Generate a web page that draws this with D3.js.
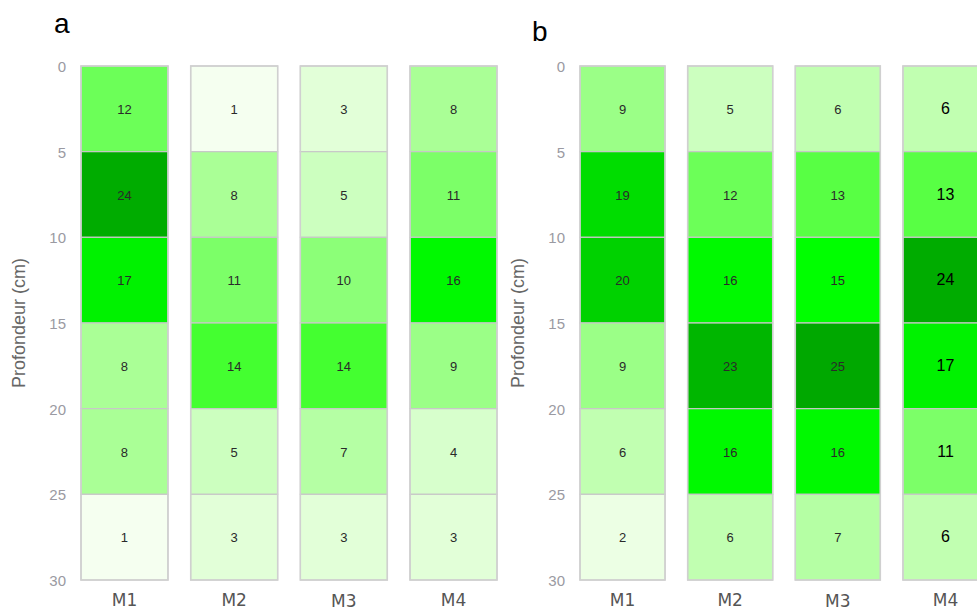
<!DOCTYPE html>
<html>
<head>
<meta charset="utf-8">
<script src="https://cdn.jsdelivr.net/npm/d3@7"></script>
<style>
  body { margin: 0; background: #fff; }
  svg { display: block; font-family: "Liberation Sans", Arial, sans-serif; }
  .tick-lab { fill: #9a9aa2; font-size: 15px; }
  .cat-lab { fill: #555; font-size: 17px; font-family: "DejaVu Sans", sans-serif; }
  .ytitle { fill: #666; font-size: 18px; }
  .cell-val { fill: #2a2a2a; font-size: 13px; }
  .panel-lab { fill: #000; font-size: 28px; }
</style>
</head>
<body>
<div id="chart"></div>
<script>
const categories = ['M1', 'M2', 'M3', 'M4'];
const depthTicks = [0, 5, 10, 15, 20, 25, 30];
const layers = [[0, 5], [5, 10], [10, 15], [15, 20], [20, 25], [25, 30]];

// panel a: values per sample, top layer to bottom layer
const valuesA = {
  M1: [12, 24, 17, 8, 8, 1],
  M2: [1, 8, 11, 14, 5, 3],
  M3: [3, 5, 10, 14, 7, 3],
  M4: [8, 11, 16, 9, 4, 3]
};
// panel b
const valuesB = {
  M1: [9, 19, 20, 9, 6, 2],
  M2: [5, 12, 16, 23, 16, 6],
  M3: [6, 13, 15, 25, 16, 7],
  M4: [6, 13, 24, 17, 11, 6]
};

const color = d3.scaleLinear()
  .domain([0, 1, 3, 5, 8, 10, 12, 14, 15, 17, 19, 20, 24, 25])
  .range(['#ffffff', '#f5fff0', '#e2ffd8', '#ccffbf', '#aaff96', '#8cff78', '#6cff58',
          '#44ff30', '#00ff00', '#00f200', '#00dd00', '#00d200', '#00ac00', '#00a800'])
  .clamp(true);

const W = 977, H = 611;
const svg = d3.select('#chart').append('svg').attr('width', W).attr('height', H);

const y = d3.scaleLinear().domain([0, 30]).range([66, 580]);

function drawPanel(cfg) {
  const g = svg.append('g');
  const x = d3.scaleBand().domain(categories).range(cfg.xRange)
    .paddingInner(cfg.padding).paddingOuter(0);

  g.append('text').attr('class', 'panel-lab')
    .attr('x', cfg.labX).attr('y', cfg.labY).text(cfg.label);

  // depth axis labels
  g.selectAll('.tick-lab').data(depthTicks).join('text')
    .attr('class', 'tick-lab')
    .attr('x', cfg.xRange[0] - 15)
    .attr('y', d => y(d) + 6)
    .attr('text-anchor', 'end')
    .text(d => d);

  g.append('text').attr('class', 'ytitle')
    .attr('transform', `translate(${cfg.xRange[0] - 56},${(y(0) + y(30)) / 2}) rotate(-90)`)
    .attr('text-anchor', 'middle')
    .text('Profondeur (cm)');

  const cells = [];
  categories.forEach(c => {
    cfg.values[c].forEach((v, i) => cells.push({ cat: c, top: layers[i][0], bot: layers[i][1], v }));
  });

  g.selectAll('rect.cell').data(cells).join('rect')
    .attr('class', 'cell')
    .attr('x', d => x(d.cat))
    .attr('y', d => y(d.top))
    .attr('width', x.bandwidth())
    .attr('height', d => y(d.bot) - y(d.top))
    .attr('fill', d => color(d.v))
    .attr('stroke', '#c8c8c8')
    .attr('stroke-width', 1.2);

  g.selectAll('rect.frame').data(categories).join('rect')
    .attr('class', 'frame')
    .attr('x', d => x(d))
    .attr('y', y(0))
    .attr('width', x.bandwidth())
    .attr('height', y(30) - y(0))
    .attr('fill', 'none')
    .attr('stroke', '#d0d0d0')
    .attr('stroke-width', 1.5);

  g.selectAll('text.cell-val').data(cells).join('text')
    .attr('class', 'cell-val')
    .attr('x', d => x(d.cat) + x.bandwidth() / 2)
    .attr('y', d => (y(d.top) + y(d.bot)) / 2 + 5)
    .attr('text-anchor', 'middle')
    .style('font-size', d => (cfg.plainCat === d.cat ? '16px' : null))
    .style('fill', d => (cfg.plainCat === d.cat ? '#000' : null))
    .text(d => d.v);

  g.selectAll('text.cat-lab').data(categories).join('text')
    .attr('class', 'cat-lab')
    .attr('x', d => x(d) + x.bandwidth() / 2)
    .attr('y', (d, i) => (i === 2 ? 607 : 606))
    .attr('text-anchor', 'middle')
    .text(d => d);
}

drawPanel({ label: 'a', labX: 54, labY: 33, values: valuesA, xRange: [81, 497], padding: 0.207 });
drawPanel({ label: 'b', labX: 532, labY: 41, values: valuesB, xRange: [580, 988], padding: 0.21, plainCat: 'M4' });
</script>
</body>
</html>
